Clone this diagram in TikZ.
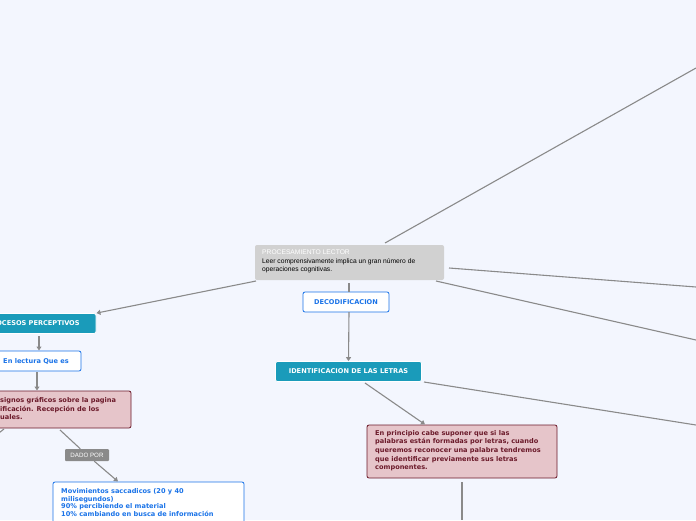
\documentclass[tikz,border=0pt]{standalone}
\usepackage{fontspec}
\setmainfont{DejaVu Sans}
\newfontfamily\arialf{Liberation Sans}
\usetikzlibrary{arrows.meta}
\definecolor{bg}{HTML}{F3F6FE}
\definecolor{teal}{HTML}{1A9BBA}
\definecolor{bl}{HTML}{1A73E8}
\definecolor{pk}{HTML}{E6C5CA}
\definecolor{pkb}{HTML}{6B1A2A}
\definecolor{ln}{HTML}{8A8A8A}
\begin{document}
\begin{tikzpicture}[x=1pt,y=-1pt,
  conn/.style={draw=ln,line width=1.1pt},
  arr/.style={conn,-{Triangle[length=4pt,width=5pt]}},
  tealbox/.style={fill=teal,draw=white,line width=0.8pt,rounded corners=2pt,text=white,font=\fontsize{6.6}{8}\selectfont\bfseries,inner sep=0pt},
  whitebox/.style={fill=white,draw=bl,line width=0.8pt,rounded corners=2pt,text=bl,font=\fontsize{6.6}{8}\selectfont\bfseries,inner sep=0pt},
  pinkbox/.style={fill=pk,draw=pkb,line width=0.8pt,rounded corners=2pt,text=pkb,font=\fontsize{6.6}{8.6}\selectfont\bfseries,inner sep=0pt},
]
\useasboundingbox (0,0) rectangle (696,520);
\fill[bg] (0,0) rectangle (696,520);
% nodes
\node[fill=black!18,rounded corners=2pt,minimum width=189pt,minimum height=35pt,inner sep=0pt] (c) at (349.5,262.5) {};
\node[anchor=north west,align=left,inner sep=0pt,font=\arialf\fontsize{6.7}{8.5}\selectfont] (ct) at (262,250)
 {\textcolor{white}{PROCESAMIENTO LECTOR}\\Leer comprensivamente implica un gran número de\\operaciones cognitivas.};
\node[whitebox,minimum width=86pt,minimum height=20pt] (dec) at (346,302) {DECODIFICACION};
\node[tealbox,minimum width=146pt,minimum height=20pt] (ide) at (348.5,371.5) {IDENTIFICACION DE LAS LETRAS};
\node[tealbox,minimum width=126pt,minimum height=20pt] (pp) at (33,323.5) {PROCESOS PERCEPTIVOS};
\node[whitebox,minimum width=90pt,minimum height=20pt] (el) at (36,361) {En lectura Que es};
\node[pinkbox,minimum width=150pt,minimum height=37pt] (p1) at (56,409.5) {};
\node[anchor=north west,align=left,inner sep=0pt,text=pkb,font=\fontsize{6.6}{8.6}\selectfont\bfseries] at (0,397)
 {signos gráficos sobre la pagina\\ificación. Recepción de los\\uales.};
\node[pinkbox,minimum width=190pt,minimum height=53pt] (p2) at (462,451.5) {};
\node[anchor=north west,align=left,inner sep=0pt,text=pkb,font=\fontsize{6.6}{8.6}\selectfont\bfseries] at (375,430)
 {En principio cabe suponer que si las\\palabras están formadas por letras, cuando\\queremos reconocer una palabra tendremos\\que identificar previamente sus letras\\componentes.};
\node[whitebox,minimum width=191pt,minimum height=50pt] (mv) at (148.5,507) {};
\node[anchor=north west,align=left,inner sep=0pt,text=bl,font=\fontsize{6.6}{8}\selectfont\bfseries] at (61,488)
 {Movimientos saccadicos (20 y 40\\milisegundos)\\[-0.5pt]90\% percibiendo el material\\10\% cambiando en busca de información};
\node[fill=ln,rounded corners=1pt,text=white,font=\arialf\fontsize{6.2}{7}\selectfont,minimum width=44pt,minimum height=12pt,inner sep=0pt] (dp) at (87,455) {DADO POR};
\coordinate (o1) at (696,68);
\coordinate (o2) at (696,287);
\coordinate (o3) at (696,340);
\coordinate (o4) at (696,425);
\coordinate (o5) at (462,520);
\coordinate (o6) at (-5,436);
% connectors
\draw[conn] (385,243) -- (o1);
\draw[conn] (449,268) -- (o2);
\draw[conn] (436,281) -- (o3);
\draw[arr] (256,281) -- (pp.north east);
\draw[conn] (349,283) -- (349,292);
\draw[arr] (349,312) -- (ide.north);
\draw[arr] (365,383) -- (425,424.5);
\draw[conn] (424,382) -- (o4);
\draw[conn] (462,482) -- (o5);
\draw[arr] (39,336) -- (39,350.5);
\draw[arr] (37,372) -- (37,390.5);
\draw[conn] (4,429) -- (o6);
\draw[conn] (60,430) -- (dp);
\draw[arr] (dp) -- (118,481.5);
\end{tikzpicture}
\end{document}
